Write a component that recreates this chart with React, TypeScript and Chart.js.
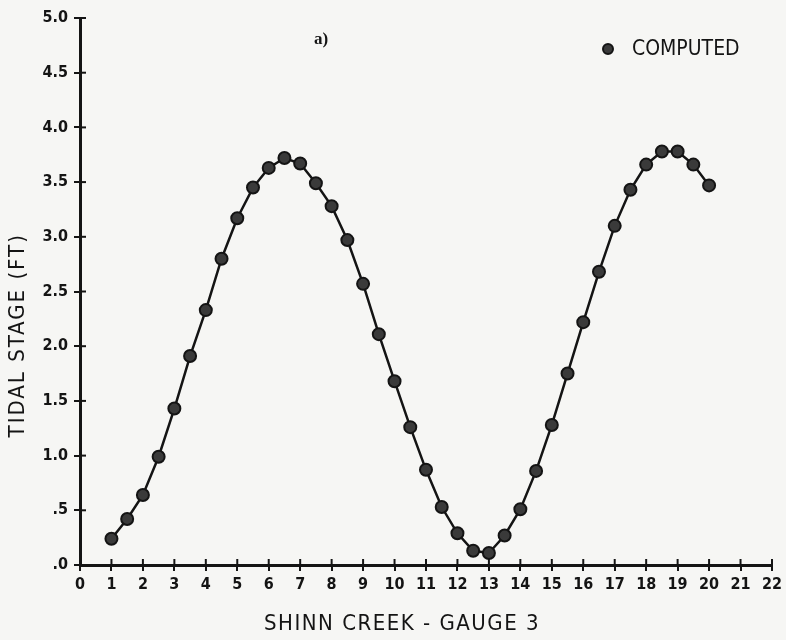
import React, { useEffect, useRef } from "react";
import { Chart, registerables } from "chart.js";

Chart.register(...registerables);

const hours = [
  1, 1.5, 2, 2.5, 3, 3.5, 4, 4.5, 5, 5.5, 6, 6.5, 7, 7.5, 8, 8.5, 9, 9.5, 10, 10.5,
  11, 11.5, 12, 12.5, 13, 13.5, 14, 14.5, 15, 15.5, 16, 16.5, 17, 17.5, 18, 18.5, 19, 19.5, 20,
];
const computedStage = [
  0.24, 0.42, 0.64, 0.99, 1.43, 1.91, 2.33, 2.8, 3.17, 3.45, 3.63, 3.72, 3.67, 3.49, 3.28, 2.97,
  2.57, 2.11, 1.68, 1.26, 0.87, 0.53, 0.29, 0.13, 0.11, 0.27, 0.51, 0.86, 1.28, 1.75, 2.22, 2.68,
  3.1, 3.43, 3.66, 3.78, 3.78, 3.66, 3.47,
];
const xTickLabels = [
  "0", "1", "2", "3", "4", "5", "6", "7", "8", "9", "10", "11", "12", "13", "14", "15", "16",
  "17", "18", "19", "20", "21", "22",
];
const yTickLabels = [".0", ".5", "1.0", "1.5", "2.0", "2.5", "3.0", "3.5", "4.0", "4.5", "5.0"];
const seriesLabel = "COMPUTED";
const xTitle = "SHINN CREEK - GAUGE 3";
const yTitle = "TIDAL STAGE (FT)";
const panelLabel = "a)";

const INK = "#141414";
const FONT = "'DejaVu Sans Condensed', 'DejaVu Sans', sans-serif";

const decorPlugin = {
  id: "decor",
  afterDraw(chart: any) {
    const { ctx, chartArea, scales } = chart;
    const xs = scales.x;
    const ys = scales.y;
    ctx.save();
    ctx.strokeStyle = INK;
    ctx.lineWidth = 2;
    // inner halves of tick crosses
    xs.ticks.forEach((t: any) => {
      const px = xs.getPixelForValue(t.value);
      ctx.beginPath();
      ctx.moveTo(px, chartArea.bottom);
      ctx.lineTo(px, chartArea.bottom - 6);
      ctx.stroke();
    });
    ys.ticks.forEach((t: any) => {
      const py = ys.getPixelForValue(t.value);
      ctx.beginPath();
      ctx.moveTo(chartArea.left, py);
      ctx.lineTo(chartArea.left + 6, py);
      ctx.stroke();
    });

    ctx.fillStyle = INK;
    // x title
    ctx.font = `22px ${FONT}`;
    (ctx as any).letterSpacing = "1.5px";
    ctx.textAlign = "center";
    ctx.textBaseline = "middle";
    ctx.fillText(xTitle, chartArea.left + 322, chartArea.bottom + 59);
    // y title
    (ctx as any).letterSpacing = "2px";
    ctx.save();
    ctx.translate(chartArea.left - 62, ys.getPixelForValue(2.1));
    ctx.rotate(-Math.PI / 2);
    ctx.fillText(yTitle, 0, 0);
    ctx.restore();
    (ctx as any).letterSpacing = "0px";

    // legend
    const lx = chartArea.left + 528;
    const ly = chartArea.top + 31;
    ctx.beginPath();
    ctx.arc(lx, ly, 5, 0, Math.PI * 2);
    ctx.fillStyle = "#3a3a3a";
    ctx.fill();
    ctx.lineWidth = 2;
    ctx.strokeStyle = INK;
    ctx.stroke();
    ctx.fillStyle = INK;
    ctx.font = `21px ${FONT}`;
    ctx.textAlign = "left";
    ctx.fillText(seriesLabel, lx + 24, ly + 1);

    // panel label
    ctx.font = "bold 17px 'Liberation Serif', serif";
    ctx.textAlign = "center";
    ctx.fillText(panelLabel, chartArea.left + 241, chartArea.top + 22);
    ctx.restore();
  },
};

export default function App() {
  const ref = useRef<HTMLCanvasElement | null>(null);
  useEffect(() => {
    if (!ref.current) return;
    const chart = new Chart(ref.current, {
      type: "scatter",
      data: {
        datasets: [
          {
            label: seriesLabel,
            data: hours.map((h, i) => ({ x: h, y: computedStage[i] })),
            showLine: true,
            borderColor: INK,
            borderWidth: 2.5,
            pointRadius: 6,
            pointBackgroundColor: "#3a3a3a",
            pointBorderColor: INK,
            pointBorderWidth: 2,
            tension: 0,
          },
        ],
      },
      options: {
        responsive: false,
        animation: false,
        devicePixelRatio: 1,
        layout: { padding: { top: 18, right: 13, left: 0, bottom: 0 }, autoPadding: false },
        plugins: { legend: { display: false }, tooltip: { enabled: false } },
        scales: {
          x: {
            type: "linear",
            min: 0,
            max: 22,
            afterBuildTicks: (s: any) => {
              s.ticks = xTickLabels.map((_, i) => ({ value: i }));
            },
            ticks: {
              autoSkip: false,
              maxRotation: 0,
              padding: 4,
              color: INK,
              font: { family: FONT, size: 16, weight: "bold" },
              callback: (v: any) => xTickLabels[Math.round(Number(v))] ?? "",
            },
            grid: { drawOnChartArea: false, tickLength: 6, color: INK, lineWidth: 2 },
            border: { color: INK, width: 3 },
            afterFit: (s: any) => {
              s.height = 75;
            },
          },
          y: {
            type: "linear",
            min: 0,
            max: 5,
            afterBuildTicks: (s: any) => {
              s.ticks = yTickLabels.map((_, i) => ({ value: i * 0.5 }));
            },
            ticks: {
              autoSkip: false,
              padding: 6,
              color: INK,
              font: { family: FONT, size: 16, weight: "bold" },
              callback: (v: any) => yTickLabels[Math.round(Number(v) * 2)] ?? "",
            },
            grid: { drawOnChartArea: false, tickLength: 6, color: INK, lineWidth: 2 },
            border: { color: INK, width: 3 },
            afterFit: (s: any) => {
              s.width = 80;
            },
          },
        },
      },
      plugins: [decorPlugin],
    } as any);
    return () => chart.destroy();
  }, []);
  return (
    <div
      style={{
        position: "fixed",
        left: 0,
        top: 0,
        width: 786,
        height: 640,
        background: "#f6f6f4",
      }}
    >
      <canvas ref={ref} width={786} height={640} />
    </div>
  );
}
